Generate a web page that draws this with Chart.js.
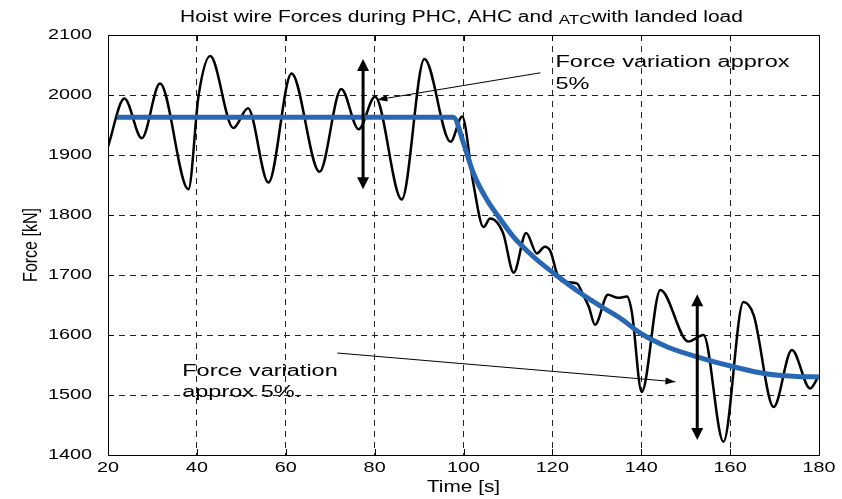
<!DOCTYPE html>
<html>
<head>
<meta charset="utf-8">
<style>
  html, body { margin: 0; padding: 0; background: #fff; }
</style>
</head>
<body>
<canvas id="myChart" width="842" height="499"></canvas>
<script src="https://cdn.jsdelivr.net/npm/chart.js@4.4.0/dist/chart.umd.min.js"></script>
<script>
'use strict';

let forceTimes = [
  20, 23.7, 27.6, 31.7, 38.1, 40.4, 43, 48.2, 51.5, 56.1, 61.3, 67.6, 72.5, 76.4, 80.1, 86.1, 91.2, 97.1, 99.7,
  102.2, 104.5, 106, 108.9, 111.3, 114.1, 116.5, 118.3, 119.6, 121, 122.4, 125.5, 126.9, 128.2, 129.6,
  132.5, 134.8, 136.8, 137.9, 140.1, 144.3, 150.6, 154, 158.5, 163, 165.3, 169.8, 173.9, 178, 180
];
let forceValues = [
  1914, 1994, 1928, 2019, 1843, 2000, 2065, 1945, 1978, 1854, 2036, 1872, 2010, 1943, 1997, 1826, 2060, 1922, 1964,
  1853, 1780, 1794, 1770, 1704, 1770, 1736, 1747, 1739, 1703, 1689, 1686, 1667, 1647, 1617,
  1667, 1662, 1664, 1637, 1505, 1675, 1589, 1600, 1422, 1655, 1633, 1480, 1575, 1511, 1533
];

// mean force (blue)
let meanTimes = [22, 97.7, 100, 102.2, 105.3, 107.9, 111.3, 115.8, 120.3, 126.3, 131.5, 135.3, 139.8, 145.9, 153.3, 160.8, 168.4, 175, 180];
let meanValues = [1963, 1963, 1920, 1870, 1825, 1797, 1763, 1730, 1703, 1670, 1645, 1628, 1603, 1580, 1562, 1547, 1535, 1531, 1530];

let xTicks = [20, 40, 60, 80, 100, 120, 140, 160, 180];
let yTicks = [1400, 1500, 1600, 1700, 1800, 1900, 2000, 2100];

let titleParts = ['Hoist wire Forces during PHC, AHC and ', 'ATC', 'with landed load'];
let xLabel = 'Time [s]';
let yLabel = 'Force [kN]';
let noteTopLines = ['Force variation approx', '5%'];
let noteBottomLines = ['Force variation', 'approx 5%.'];

// double arrows [t, fTop, fBottom] and pointer lines [t1, f1, t2, f2]
let bigArrows = [[77.4, 2060, 1843], [152.6, 1668, 1425]];
let pointers = [[117.3, 2037, 80.6, 1992], [71.6, 1570, 147.7, 1522]];

let fontName = '"Liberation Sans", Arial, Helvetica, sans-serif';
let blue = '#2767b3';

function toPoints(xs, ys) {
  let pts = [];
  for (let i = 0; i < xs.length; i++) {
    pts.push({ x: xs[i], y: ys[i] });
  }
  return pts;
}

function wideText(ctx, text, x, y, size, align, base, sx) {
  ctx.save();
  ctx.font = size + 'px ' + fontName;
  ctx.textAlign = align;
  ctx.textBaseline = base;
  ctx.translate(x, y);
  ctx.scale(sx, 1);
  ctx.fillText(text, 0, 0);
  ctx.restore();
}

function textWidth(ctx, text, size, sx) {
  ctx.save();
  ctx.font = size + 'px ' + fontName;
  let w = ctx.measureText(text).width * sx;
  ctx.restore();
  return w;
}

function arrowHead(ctx, x1, y1, x2, y2, len, half) {
  let a = Math.atan2(y2 - y1, x2 - x1);
  let bx = x2 - len * Math.cos(a);
  let by = y2 - len * Math.sin(a);
  ctx.beginPath();
  ctx.moveTo(x2, y2);
  ctx.lineTo(bx + half * Math.sin(a), by - half * Math.cos(a));
  ctx.lineTo(bx - half * Math.sin(a), by + half * Math.cos(a));
  ctx.closePath();
  ctx.fill();
}

let decorations = {
  id: 'decorations',
  afterDatasetsDraw(chart) {
    let ctx = chart.ctx;
    let xs = chart.scales.x;
    let ys = chart.scales.y;
    let area = chart.chartArea;

    ctx.save();
    ctx.fillStyle = '#000';
    ctx.strokeStyle = '#000';

    // frame
    ctx.lineWidth = 1;
    ctx.setLineDash([]);
    ctx.strokeRect(area.left + 0.5, area.top + 0.5, area.right - area.left, area.bottom - area.top);

    // inward ticks
    ctx.beginPath();
    for (let i = 0; i < xTicks.length; i++) {
      let px = Math.round(xs.getPixelForValue(xTicks[i])) + 0.5;
      ctx.moveTo(px, area.bottom); ctx.lineTo(px, area.bottom - 6);
      ctx.moveTo(px, area.top); ctx.lineTo(px, area.top + 6);
    }
    for (let i = 0; i < yTicks.length; i++) {
      let py = Math.round(ys.getPixelForValue(yTicks[i])) + 0.5;
      ctx.moveTo(area.left, py); ctx.lineTo(area.left + 6, py);
      ctx.moveTo(area.right, py); ctx.lineTo(area.right - 6, py);
    }
    ctx.stroke();

    // vertical double arrows
    ctx.lineWidth = 3;
    for (let i = 0; i < bigArrows.length; i++) {
      let px = xs.getPixelForValue(bigArrows[i][0]);
      let y1 = ys.getPixelForValue(bigArrows[i][1]);
      let y2 = ys.getPixelForValue(bigArrows[i][2]);
      ctx.beginPath();
      ctx.moveTo(px, y1 + 8);
      ctx.lineTo(px, y2 - 8);
      ctx.stroke();
      arrowHead(ctx, px, y2, px, y1, 12, 6);
      arrowHead(ctx, px, y1, px, y2, 12, 6);
    }

    // pointer lines
    ctx.lineWidth = 1;
    for (let i = 0; i < pointers.length; i++) {
      let x1 = xs.getPixelForValue(pointers[i][0]);
      let y1 = ys.getPixelForValue(pointers[i][1]);
      let x2 = xs.getPixelForValue(pointers[i][2]);
      let y2 = ys.getPixelForValue(pointers[i][3]);
      ctx.beginPath();
      ctx.moveTo(x1, y1);
      ctx.lineTo(x2, y2);
      ctx.stroke();
      arrowHead(ctx, x1, y1, x2, y2, 10, 3.5);
    }

    // notes
    let tx = xs.getPixelForValue(120.7);
    wideText(ctx, noteTopLines[0], tx, ys.getPixelForValue(2046.7), 16, 'left', 'alphabetic', 1.47);
    wideText(ctx, noteTopLines[1], tx, ys.getPixelForValue(2010), 16, 'left', 'alphabetic', 1.47);
    let bx = xs.getPixelForValue(36.7);
    wideText(ctx, noteBottomLines[0], bx, ys.getPixelForValue(1531.7), 16, 'left', 'alphabetic', 1.47);
    wideText(ctx, noteBottomLines[1], bx, ys.getPixelForValue(1496.7), 16, 'left', 'alphabetic', 1.47);

    // tick labels
    for (let i = 0; i < xTicks.length; i++) {
      wideText(ctx, String(xTicks[i]), xs.getPixelForValue(xTicks[i]), area.bottom + 5, 15, 'center', 'top', 1.32);
    }
    for (let i = 0; i < yTicks.length; i++) {
      wideText(ctx, String(yTicks[i]), area.left - 16, ys.getPixelForValue(yTicks[i]), 15, 'right', 'middle', 1.32);
    }

    // axis titles
    let midX = (area.left + area.right) / 2;
    wideText(ctx, xLabel, midX, area.bottom + 33, 16, 'center', 'middle', 1.3);
    ctx.save();
    ctx.translate(31, (area.top + area.bottom) / 2);
    ctx.scale(1.3, 1);
    ctx.rotate(-Math.PI / 2);
    ctx.font = '16px ' + fontName;
    ctx.textAlign = 'center';
    ctx.textBaseline = 'middle';
    ctx.fillText(yLabel, 0, 0);
    ctx.restore();

    // title with small ATC
    let w0 = textWidth(ctx, titleParts[0], 16, 1.31);
    let w1 = textWidth(ctx, titleParts[1], 13, 1.31);
    let w2 = textWidth(ctx, titleParts[2], 16, 1.31);
    let start = midX - 2 - (w0 + w1 + w2) / 2;
    wideText(ctx, titleParts[0], start, 22, 16, 'left', 'alphabetic', 1.31);
    wideText(ctx, titleParts[1], start + w0, 24, 13, 'left', 'alphabetic', 1.31);
    wideText(ctx, titleParts[2], start + w0 + w1, 22, 16, 'left', 'alphabetic', 1.31);

    ctx.restore();
  }
};

let ctx = document.getElementById('myChart').getContext('2d');
let myChart = new Chart(ctx, {
  type: 'line',
  data: {
    datasets: [{
      label: 'Mean force',
      data: toPoints(meanTimes, meanValues),
      borderColor: blue,
      borderWidth: 5,
      pointRadius: 0,
      cubicInterpolationMode: 'monotone',
      borderCapStyle: 'butt',
      order: 0
    }, {
      label: 'Wire force',
      data: toPoints(forceTimes, forceValues),
      borderColor: '#000',
      borderWidth: 2.5,
      pointRadius: 0,
      cubicInterpolationMode: 'monotone',
      order: 1
    }]
  },
  options: {
    responsive: false,
    animation: false,
    devicePixelRatio: 1,
    layout: { padding: { top: 35, right: 23, left: 0, bottom: 0 } },
    plugins: {
      legend: { display: false },
      title: { display: false },
      tooltip: { enabled: false }
    },
    scales: {
      x: {
        type: 'linear',
        min: 20,
        max: 180,
        afterBuildTicks: function (scale) {
          scale.ticks = xTicks.map(function (v) { return { value: v }; });
        },
        afterFit: function (scale) { scale.height = 44; },
        ticks: { display: false },
        grid: { color: '#222', lineWidth: 1, drawTicks: false },
        border: { display: false, dash: [6, 5] }
      },
      y: {
        type: 'linear',
        min: 1400,
        max: 2100,
        afterBuildTicks: function (scale) {
          scale.ticks = yTicks.map(function (v) { return { value: v }; });
        },
        afterFit: function (scale) { scale.width = 108; },
        ticks: { display: false },
        grid: { color: '#222', lineWidth: 1, drawTicks: false },
        border: { display: false, dash: [6, 5] }
      }
    }
  },
  plugins: [decorations]
});
</script>
</body>
</html>
